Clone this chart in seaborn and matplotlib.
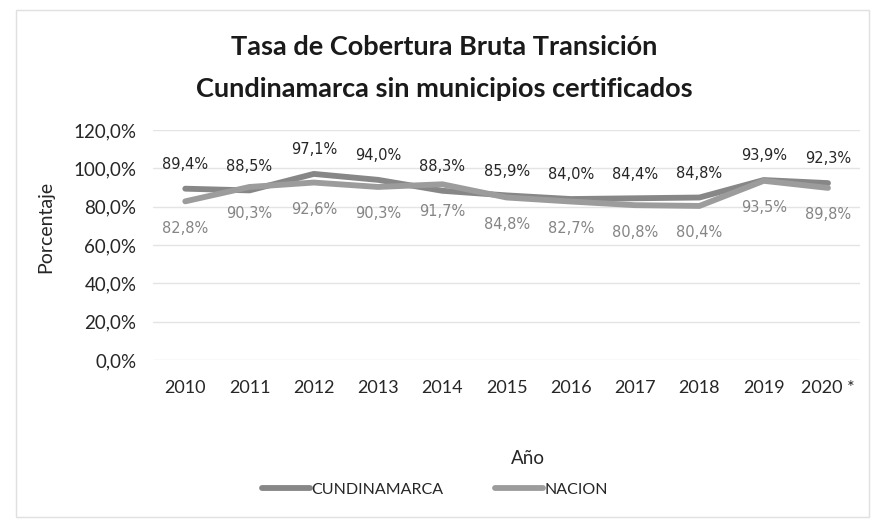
import matplotlib
matplotlib.use("Agg")
import matplotlib.pyplot as plt
import seaborn as sns
import pandas as pd
from matplotlib.patches import Rectangle

years = ["2010", "2011", "2012", "2013", "2014", "2015", "2016", "2017", "2018", "2019", "2020 *"]
cundinamarca = [89.4, 88.5, 97.1, 94.0, 88.3, 85.9, 84.0, 84.4, 84.8, 93.9, 92.3]
nacion = [82.8, 90.3, 92.6, 90.3, 91.7, 84.8, 82.7, 80.8, 80.4, 93.5, 89.8]
y_ticks = [0, 20, 40, 60, 80, 100, 120]

df = pd.DataFrame({
    "Año": list(range(len(years))) * 2,
    "Porcentaje": cundinamarca + nacion,
    "Serie": ["CUNDINAMARCA"] * len(years) + ["NACION"] * len(years),
})

sns.set_theme(style="white")
plt.rcParams["font.family"] = ["Lato", "DejaVu Sans"]

fig = plt.figure(figsize=(8.75, 5.22), dpi=100)
ax = fig.add_axes([0.175, 0.31, 0.808, 0.441])

palette = {"CUNDINAMARCA": "#878787", "NACION": "#9c9c9c"}
sns.lineplot(data=df, x="Año", y="Porcentaje", hue="Serie", palette=palette,
             linewidth=4.2, ax=ax, legend=False, sort=False)

def fmt(v):
    return f"{v:.1f}%".replace(".", ",")

for i, (c, n) in enumerate(zip(cundinamarca, nacion)):
    ax.annotate(fmt(c), (i, c), xytext=(0, 12), textcoords="offset points",
                ha="center", va="bottom", fontsize=10.5, color="#262626",
                family=["DejaVu Sans"])
    ax.annotate(fmt(n), (i, n), xytext=(0, -14), textcoords="offset points",
                ha="center", va="top", fontsize=10.5, color="#858585",
                family=["DejaVu Sans"])

ax.set_ylim(0, 120)
ax.set_xlim(-0.5, len(years) - 0.5)
ax.set_yticks(y_ticks)
ax.set_yticklabels([f"{t:.1f}%".replace(".", ",") for t in y_ticks], fontsize=13.5, color="#262626")
ax.set_xticks(range(len(years)))
ax.set_xticklabels(years, fontsize=13, color="#262626")
ax.tick_params(axis="y", length=0, pad=12)
ax.tick_params(axis="x", length=0, pad=14)
ax.grid(axis="y", color="#e4e4e4", linewidth=1)
ax.set_axisbelow(True)
for s in ax.spines.values():
    s.set_visible(False)

ax.set_xlabel("Año", fontsize=13.5, color="#262626")
ax.xaxis.set_label_coords(0.53, -0.39)
ax.set_ylabel("Porcentaje", fontsize=14, color="#262626")
ax.yaxis.set_label_coords(-0.14, 0.58)

fig.text(0.508, 0.91, "Tasa de Cobertura Bruta Transición", ha="center", va="center",
         fontsize=19.5, fontweight="bold", color="#1a1a1a")
fig.text(0.508, 0.83, "Cundinamarca sin municipios certificados", ha="center", va="center",
         fontsize=19.5, fontweight="bold", color="#1a1a1a")

handles = [plt.Line2D([], [], color=palette[k], linewidth=4.2) for k in palette]
fig.legend(handles, list(palette.keys()), loc="center", bbox_to_anchor=(0.497, 0.062),
           ncol=2, frameon=False, fontsize=11.5, handlelength=3.0, columnspacing=3.2,
           handletextpad=0.1, labelcolor="#262626")

fig.patches.append(Rectangle((0.018, 0.01), 0.975, 0.97, transform=fig.transFigure,
                             fill=False, edgecolor="#e0e0e0", linewidth=1))

fig.savefig("out.png", dpi=100)
